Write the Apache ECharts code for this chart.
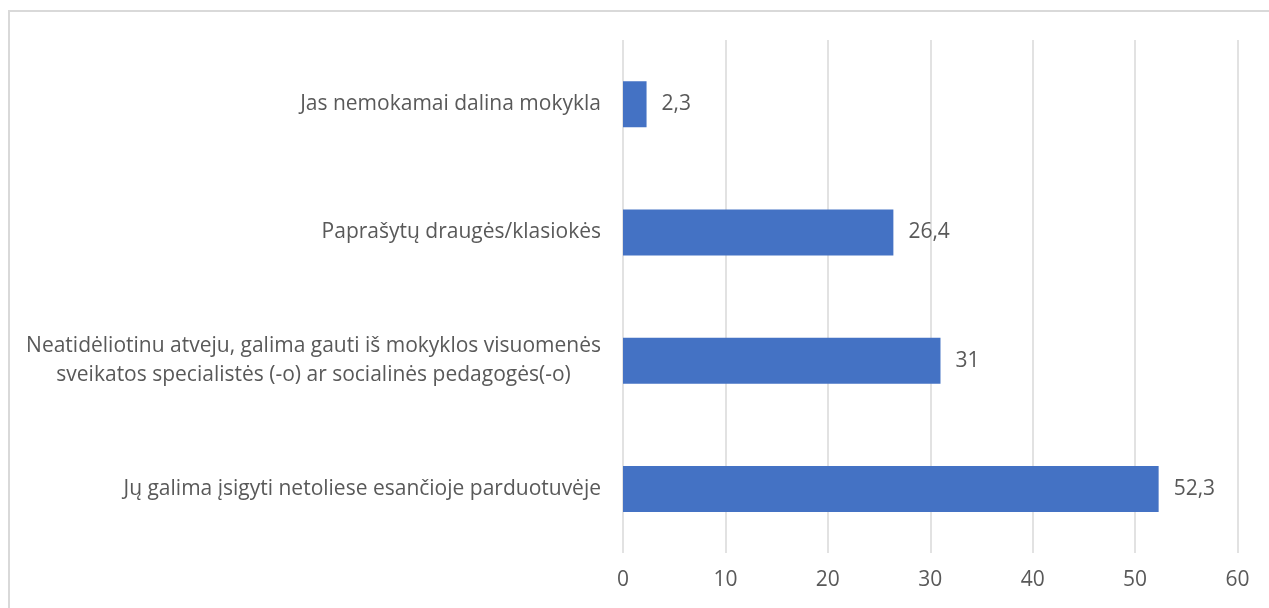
<!DOCTYPE html>
<html>
<head>
<meta charset="utf-8">
<script src="https://cdn.jsdelivr.net/npm/echarts@6/dist/echarts.min.js"></script>
<style>
  html, body { margin: 0; padding: 0; background: #fff; }
  #chart { width: 1269px; height: 608px; }
</style>
</head>
<body>
<div id="chart"></div>
<script>
// categories top to bottom
const categories = [
  'Jas nemokamai dalina mokykla',
  'Paprašytų draugės/klasiokės',
  'Neatidėliotinu atveju, galima gauti iš mokyklos visuomenės\nsveikatos specialistės (-o) ar socialinės pedagogės(-o)',
  'Jų galima įsigyti netoliese esančioje parduotuvėje'
]
const values = [2.3, 26.4, 31, 52.3]
const xTicks = [0, 10, 20, 30, 40, 50, 60]

const FONT = '"Open Sans", "Noto Sans", sans-serif'
const TEXT_COLOR = '#595959'
const FS = 21

const chart = echarts.init(document.getElementById('chart'))

const option = {
  animation: false,
  textStyle: { fontFamily: FONT },
  grid: {
    left: 623,
    right: 31.5,
    top: 40,
    bottom: 55,
    containLabel: false,
    outerBoundsMode: 'none'
  },
  graphic: [{
    type: 'rect',
    shape: { x: 9, y: 11, width: 1280, height: 700 },
    style: { fill: 'none', stroke: '#d9d9d9', lineWidth: 2 },
    silent: true
  }],
  xAxis: {
    type: 'value',
    min: xTicks[0],
    max: xTicks[xTicks.length - 1],
    interval: 10,
    axisLine: { show: false },
    axisTick: { show: false },
    splitLine: { lineStyle: { color: '#d9d9d9', width: 1.5 } },
    axisLabel: {
      margin: 17,
      color: TEXT_COLOR,
      fontSize: FS,
      fontFamily: FONT
    }
  },
  yAxis: {
    type: 'category',
    inverse: true,
    data: categories,
    axisLine: { show: false },
    axisTick: { show: false },
    axisLabel: {
      margin: 22,
      color: TEXT_COLOR,
      fontSize: FS,
      fontFamily: FONT,
      lineHeight: 29,
      formatter: (v) => v.split('\n').map(s => '{c|' + s + '}').join('\n'),
      rich: {
        c: { align: 'center', color: TEXT_COLOR, fontSize: FS, fontFamily: FONT, lineHeight: 29 }
      }
    }
  },
  series: [{
    type: 'bar',
    data: values,
    barWidth: 46,
    itemStyle: { color: '#4472c4' },
    label: {
      show: true,
      position: 'right',
      distance: 15,
      color: TEXT_COLOR,
      fontSize: FS,
      fontFamily: FONT,
      formatter: (p) => String(p.value).replace('.', ',')
    }
  }]
}

chart.setOption(option)
</script>
</body>
</html>
